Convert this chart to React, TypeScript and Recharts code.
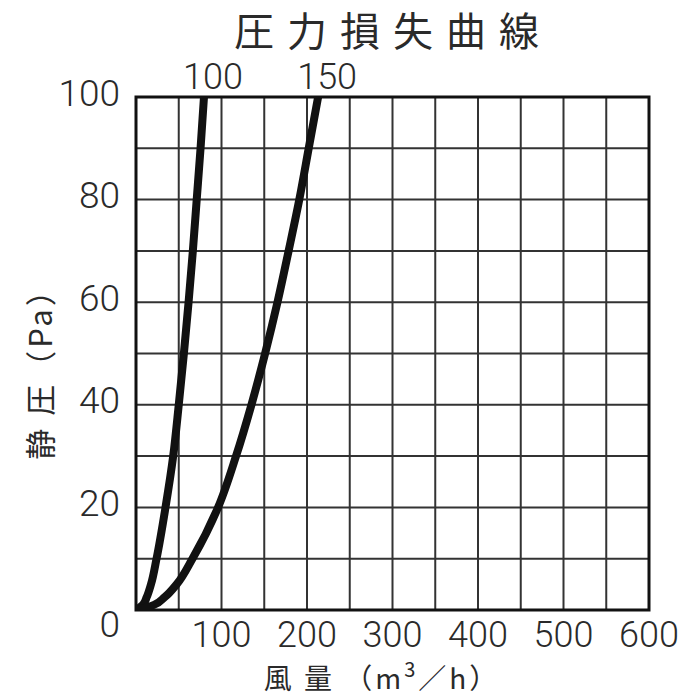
import React from "react";
import {
  LineChart,
  Line,
  XAxis,
  YAxis,
  CartesianGrid,
  ReferenceArea,
} from "recharts";

const title = "圧力損失曲線";
const xTicks = [0, 50, 100, 150, 200, 250, 300, 350, 400, 450, 500, 550, 600];
const xLabelTicks = [100, 200, 300, 400, 500, 600];
const yTicks = [0, 10, 20, 30, 40, 50, 60, 70, 80, 90, 100];
const yLabelTicks = [0, 20, 40, 60, 80, 100];

const curve100P = [0, 1, 2.5, 5, 10, 20, 30, 40, 50, 60, 70, 80, 90, 100];
const curve100Q = [0, 8, 12.5, 17.5, 24, 34.5, 43.5, 50, 56, 61.5, 66.5, 71, 75.5, 79.5];
const curve150P = [0, 1, 2.5, 5, 10, 20, 30, 40, 50, 60, 70, 80, 90, 100];
const curve150Q = [0, 21, 33.5, 47.5, 66, 96, 117, 135, 151, 165.5, 178.5, 191, 202, 213];

const curve100 = curve100P.map((p, i) => ({ p, q: curve100Q[i] }));
const curve150 = curve150P.map((p, i) => ({ p, q: curve150Q[i] }));

const numFont = "Roboto, 'Liberation Sans', sans-serif";
const cjkFont = "'Noto Sans CJK JP', sans-serif";
const textColor = "#2a2a2a";

const renderXTick = (props: any) => {
  const { x, payload } = props;
  const v = Number(payload.value);
  if (!xLabelTicks.includes(v)) return <g />;
  return (
    <text
      x={x}
      y={610 + 25}
      textAnchor="middle"
      dominantBaseline="central"
      fontSize={36}
      fontWeight={300}
      fontFamily={numFont}
      fill={textColor}
    >
      {v}
    </text>
  );
};

const renderYTick = (props: any) => {
  const { y, payload } = props;
  const v = Number(payload.value);
  if (!yLabelTicks.includes(v)) return <g />;
  const dy = v === 0 ? 14 : -4;
  return (
    <text
      x={136 - 16}
      y={y + dy}
      textAnchor="end"
      dominantBaseline="central"
      fontSize={37}
      fontWeight={300}
      fontFamily={numFont}
      fill={textColor}
    >
      {v}
    </text>
  );
};

const makeEndLabel = (text: string, count: number, dx: number) => (props: any) => {
  const { x, y, index } = props;
  if (index !== count - 1) return <g />;
  return (
    <text
      x={x + dx}
      y={y - 20}
      textAnchor="middle"
      dominantBaseline="central"
      fontSize={36}
      fontWeight={300}
      fontFamily={numFont}
      fill={textColor}
    >
      {text}
    </text>
  );
};

export default function App() {
  return (
    <div style={{ position: "absolute", left: 0, top: 0, width: 700, height: 700, background: "#fff" }}>
      <LineChart
        width={700}
        height={700}
        layout="vertical"
        margin={{ top: 97, right: 51, bottom: 30, left: 16 }}
      >
        <text
          x={393}
          y={29}
          textAnchor="middle"
          dominantBaseline="central"
          fontSize={40}
          fontFamily={cjkFont}
          letterSpacing={13}
          fill={textColor}
        >
          {title}
        </text>
        <CartesianGrid stroke="#333" strokeWidth={2} strokeOpacity={1} />
        <XAxis
          type="number"
          domain={[0, 600]}
          ticks={xTicks}
          interval={0}
          height={60}
          tickLine={false}
          axisLine={false}
          tick={renderXTick}
          allowDataOverflow
        />
        <YAxis
          dataKey="p"
          type="number"
          domain={[0, 100]}
          ticks={yTicks}
          interval={0}
          width={120}
          reversed
          tickLine={false}
          axisLine={false}
          tick={renderYTick}
          allowDataOverflow
        />
        <ReferenceArea
          x1={0}
          x2={600}
          y1={0}
          y2={100}
          fill="none"
          fillOpacity={0}
          stroke="#111"
          strokeWidth={3}
          strokeOpacity={1}
        />
        <Line
          data={curve100}
          dataKey="q"
          type="monotone"
          stroke="#111"
          strokeWidth={8}
          dot={false}
          isAnimationActive={false}
          label={makeEndLabel("100", curve100.length, 9)}
        />
        <Line
          data={curve150}
          dataKey="q"
          type="monotone"
          stroke="#111"
          strokeWidth={8}
          dot={false}
          isAnimationActive={false}
          label={makeEndLabel("150", curve150.length, 9)}
        />
        <text
          x={38}
          y={366}
          transform="rotate(-90 38 366)"
          textAnchor="middle"
          dominantBaseline="central"
          fontSize={31}
          fontFamily={cjkFont}
          letterSpacing={3}
          fill={textColor}
        >
          静 圧（Pa）
        </text>
        <text
          x={382}
          y={677}
          textAnchor="middle"
          dominantBaseline="central"
          fontSize={28}
          fontFamily={cjkFont}
          letterSpacing={3}
          fill={textColor}
        >
          風 量 （m
          <tspan fontSize={20} dy={-9}>3</tspan>
          <tspan dy={9}>／h）</tspan>
        </text>
      </LineChart>
    </div>
  );
}
